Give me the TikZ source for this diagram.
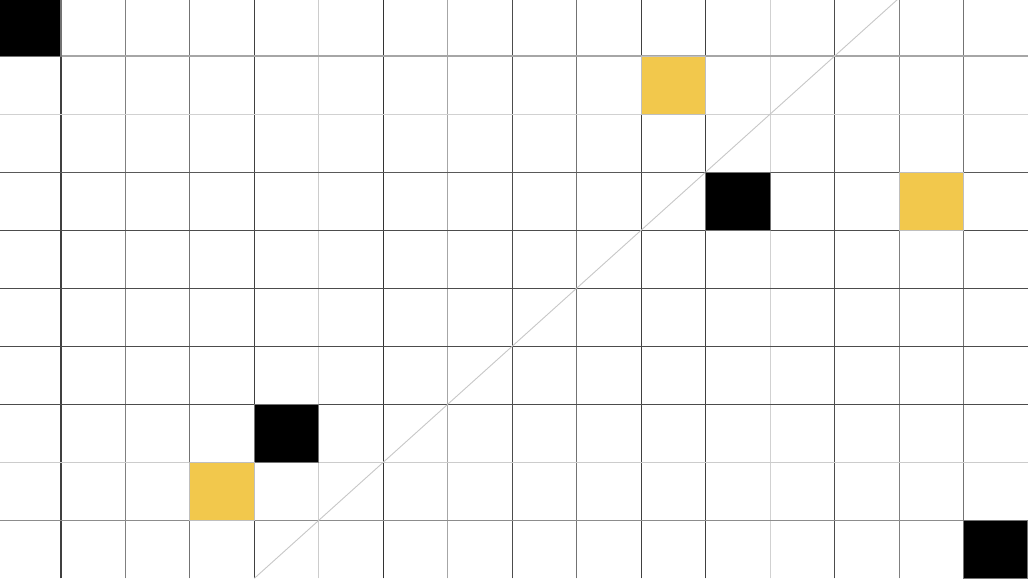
\documentclass[tikz,border=0pt]{standalone}
\usepackage{tikz}
\definecolor{cellyellow}{HTML}{F2C84C}

\begin{document}
\begin{tikzpicture}[line width=.5pt]
    \useasboundingbox (.054,0) rectangle (16,8.97);
    \fill[white] (0,0) rectangle (16,9);
    \foreach \x/\shade in {1/75,2/50,3/55,4/75,5/20,6/80,7/35,8/70,9/55,10/75,11/75,12/18,13/70,14/50,15/55}
      \draw[black!\shade] (\x,0) -- (\x,9);
    \foreach \j/\shade in {2/18,3/65,4/70,5/70,6/70,7/70,8/20,9/45}
      \draw[black!\shade] (0,9-.9*\j) -- (16,9-.9*\j);
    \draw[black!35,line width=1.2pt] (0,8.1) -- (16,8.1);
    \draw[black!22,line width=.4pt] (4,0) -- (14,9);
    \foreach \x/\y in {0/8.1,11/5.4,4/1.8,15/0}
      \filldraw[fill=black,draw=black!55] (\x,\y) rectangle ++(1,.9);
    \foreach \x/\y in {10/7.2,14/5.4,3/.9}
      \filldraw[fill=cellyellow,draw=black!25] (\x,\y) rectangle ++(1,.9);
  \end{tikzpicture}
\end{document}
